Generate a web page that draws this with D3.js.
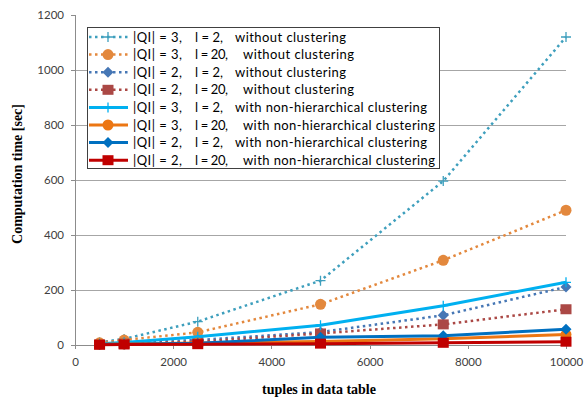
<!DOCTYPE html>
<html>
<head>
<meta charset="utf-8">
<script src="https://cdn.jsdelivr.net/npm/d3@7/dist/d3.min.js"></script>
<style>
  html, body { margin: 0; padding: 0; background: #fff; }
  svg { display: block; }
</style>
</head>
<body>
<svg id="chart" width="585" height="398"></svg>
<script>
// Data: computation time [sec] against number of tuples
const tuples = [500, 1000, 2500, 5000, 7500, 10000];
const qi3l2Plain   = [10, 22, 85, 234, 596, 1120];
const qi3l20Plain  = [8, 18, 46, 148, 308, 490];
const qi2l2Plain   = [3, 8, 18, 47, 108, 211];
const qi2l20Plain  = [2, 5, 12, 42, 75, 130];
const qi3l2Clust   = [5, 9, 30, 72, 143, 228];
const qi3l20Clust  = [3, 4, 7, 13, 23, 38];
const qi2l2Clust   = [2, 3, 6, 28, 34, 57];
const qi2l20Clust  = [1, 2, 3, 5, 8, 12];

const labelQI  = ["|QI| = 3,", "|QI| = 3,", "|QI| = 2,", "|QI| = 2,", "|QI| = 3,", "|QI| = 3,", "|QI| = 2,", "|QI| = 2,"];
const labelL   = ["l = 2,", "l = 20,", "l = 2,", "l = 20,", "l = 2,", "l = 20,", "l = 2,", "l = 20,"];
const labelAlg = ["without clustering", "without clustering", "without clustering", "without clustering",
                  "with non-hierarchical clustering", "with non-hierarchical clustering",
                  "with non-hierarchical clustering", "with non-hierarchical clustering"];

const xTicks = [0, 2000, 4000, 6000, 8000, 10000];
const yTicks = [0, 200, 400, 600, 800, 1000, 1200];

const series = [
  { values: qi3l2Plain,  color: "#3e9fbd", dotted: true,  marker: "cross" },
  { values: qi3l20Plain, color: "#e3883d", dotted: true,  marker: "circle" },
  { values: qi2l2Plain,  color: "#4677b5", dotted: true,  marker: "diamond" },
  { values: qi2l20Plain, color: "#ab4845", dotted: true,  marker: "square" },
  { values: qi3l2Clust,  color: "#00b0f0", dotted: false, marker: "cross" },
  { values: qi3l20Clust, color: "#ec7613", dotted: false, marker: "circle" },
  { values: qi2l2Clust,  color: "#0070c0", dotted: false, marker: "diamond" },
  { values: qi2l20Clust, color: "#c00000", dotted: false, marker: "square" }
];
series.forEach((s, i) => { s.qi = labelQI[i]; s.l = labelL[i]; s.alg = labelAlg[i]; });

const svg = d3.select("#chart");
const x = d3.scaleLinear().domain([0, 10000]).range([75, 566]);
const y = d3.scaleLinear().domain([0, 1200]).range([345, 15]);

const tickFont = "Lato, 'Open Sans', sans-serif";
const titleFont = "'Liberation Serif', 'Times New Roman', serif";

// Horizontal gridlines
svg.append("g")
  .selectAll("line")
  .data(yTicks.filter(t => t > 0 && t < 1200))
  .join("line")
  .attr("x1", x(0)).attr("x2", x(10000))
  .attr("y1", d => y(d)).attr("y2", d => y(d))
  .attr("stroke", "#a6a6a6").attr("stroke-width", 1)
  .attr("shape-rendering", "crispEdges");

// Axes
const yAxis = svg.append("g")
  .attr("transform", `translate(${x(0)},0)`)
  .call(d3.axisLeft(y).tickValues(yTicks).tickSize(4).tickPadding(7).tickFormat(d3.format("d")));
const xAxis = svg.append("g")
  .attr("transform", `translate(0,${y(0)})`)
  .call(d3.axisBottom(x).tickValues(xTicks).tickSize(4).tickPadding(9).tickFormat(d3.format("d")));

[xAxis, yAxis].forEach(g => {
  g.select(".domain").attr("stroke", "#8c8c8c").attr("shape-rendering", "crispEdges");
  g.selectAll(".tick line").attr("stroke", "#8c8c8c").attr("shape-rendering", "crispEdges");
  g.selectAll(".tick text").attr("fill", "#404040").style("font-family", tickFont).style("font-size", "11.5px");
});

// Axis titles
svg.append("text")
  .attr("x", 319).attr("y", 394)
  .attr("text-anchor", "middle")
  .style("font-family", titleFont).style("font-weight", "bold").style("font-size", "14px")
  .text("tuples in data table");
svg.append("text")
  .attr("transform", "translate(22,174) rotate(-90)")
  .attr("text-anchor", "middle")
  .style("font-family", titleFont).style("font-weight", "bold").style("font-size", "14px")
  .text("Computation time [sec]");

// Marker drawing
function drawMarker(g, type, color, cx, cy) {
  if (type === "cross") {
    g.append("path")
      .attr("d", `M${cx - 5},${cy}H${cx + 5}M${cx},${cy - 5}V${cy + 5}`)
      .attr("stroke", color).attr("stroke-width", 1.3).attr("fill", "none");
  } else if (type === "circle") {
    g.append("circle").attr("cx", cx).attr("cy", cy).attr("r", 5.5).attr("fill", color);
  } else if (type === "diamond") {
    g.append("path")
      .attr("d", `M${cx},${cy - 5.5}L${cx + 5.5},${cy}L${cx},${cy + 5.5}L${cx - 5.5},${cy}Z`)
      .attr("fill", color);
  } else if (type === "square") {
    g.append("rect").attr("x", cx - 5.5).attr("y", cy - 5).attr("width", 11).attr("height", 10).attr("fill", color);
  }
}

const line = d3.line().x((d, i) => x(tuples[i])).y(d => y(d));

// Series lines and markers
series.forEach(s => {
  const g = svg.append("g");
  g.append("path")
    .datum(s.values)
    .attr("d", line)
    .attr("fill", "none")
    .attr("stroke", s.color)
    .attr("stroke-width", s.dotted ? 2.5 : 3)
    .attr("stroke-dasharray", s.dotted ? "2.5,3.5" : null)
    .attr("stroke-linejoin", "round");
  s.values.forEach((v, i) => drawMarker(g, s.marker, s.color, x(tuples[i]), y(v)));
});

// Legend
const legend = svg.append("g");
legend.append("rect")
  .attr("x", 87.5).attr("y", 27.5).attr("width", 352).attr("height", 141)
  .attr("fill", "#fff").attr("stroke", "#404040").attr("stroke-width", 1);

series.forEach((s, i) => {
  const cy = 37 + i * 17.6;
  const row = legend.append("g");
  row.append("line")
    .attr("x1", 89).attr("x2", 128).attr("y1", cy).attr("y2", cy)
    .attr("stroke", s.color)
    .attr("stroke-width", s.dotted ? 2.5 : 3)
    .attr("stroke-dasharray", s.dotted ? "2.5,3.5" : null);
  drawMarker(row, s.marker, s.color, 108, cy);
  const wide = s.l === "l = 20,";
  const clustered = s.alg.startsWith("with ");
  const t = row.append("text")
    .attr("y", cy + 4.5)
    .attr("fill", "#000")
    .style("font-family", tickFont).style("font-size", "13px");
  t.append("tspan").attr("x", 133).attr("textLength", 49).attr("lengthAdjust", "spacing").text(s.qi);
  t.append("tspan").attr("x", 195).attr("textLength", wide ? 33 : 28).attr("lengthAdjust", "spacing").text(s.l);
  t.append("tspan").attr("x", wide ? 243 : 235)
    .attr("textLength", clustered ? 192 : 111).attr("lengthAdjust", "spacing")
    .text(s.alg);
});
</script>
</body>
</html>
